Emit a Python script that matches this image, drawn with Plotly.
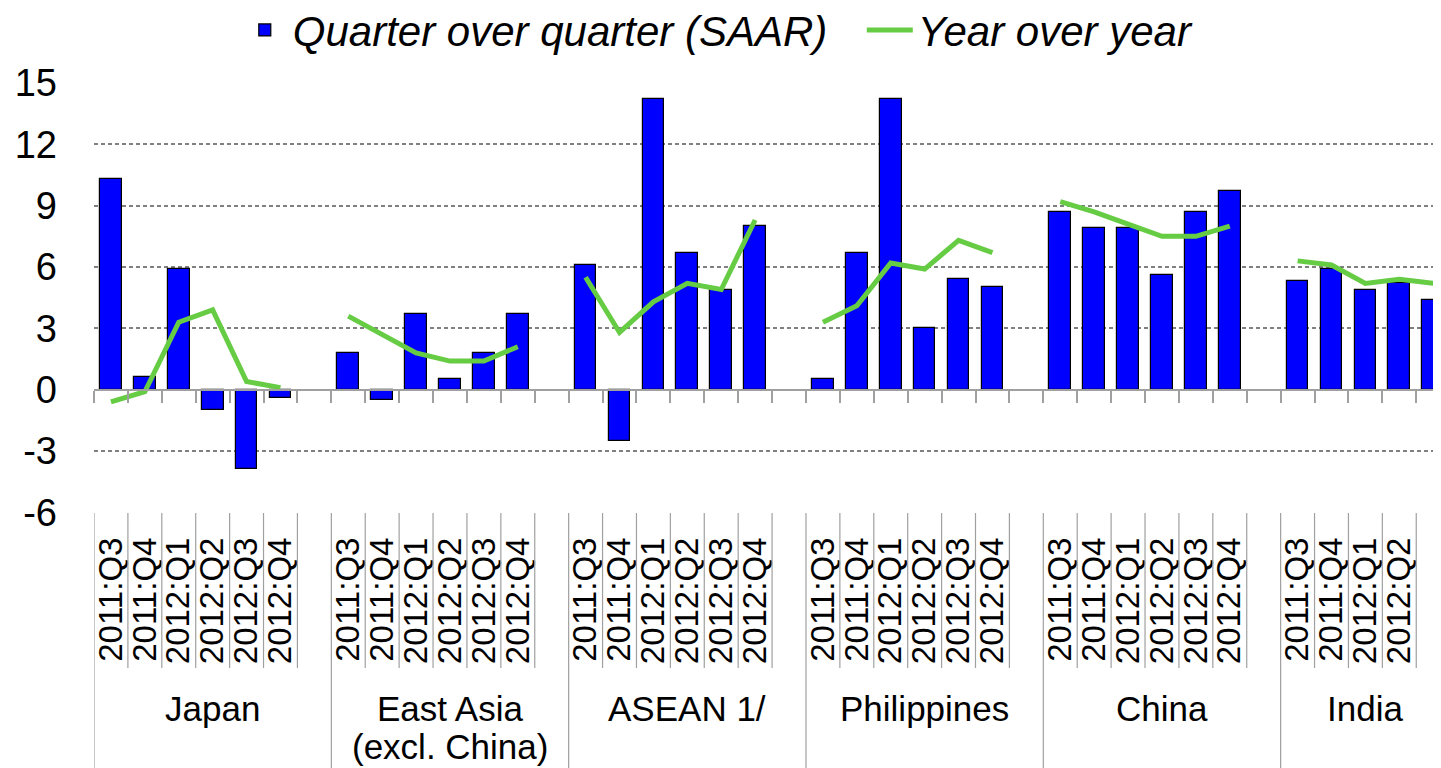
import plotly.graph_objects as go

# categories
groups = ['Japan', 'East Asia<br>(excl. China)', 'ASEAN 1/', 'Philippines', 'China', 'India']
quarters = ['2011:Q3', '2011:Q4', '2012:Q1', '2012:Q2', '2012:Q3', '2012:Q4']
y_ticks = [-6, -3, 0, 3, 6, 9, 12, 15]
y_tick_labels = ['-6', '-3', '0', '3', '6', '9', '12', '15']

# quarter over quarter (SAAR), percent
qoq_japan = [10.3, 0.6, 5.9, -1.0, -3.9, -0.4]
qoq_east_asia = [1.8, -0.5, 3.7, 0.5, 1.8, 3.7]
qoq_asean = [6.1, -2.5, 14.2, 6.7, 4.9, 8.0]
qoq_philippines = [0.5, 6.7, 14.2, 3.0, 5.4, 5.0]
qoq_china = [8.7, 7.9, 7.9, 5.6, 8.7, 9.7]
qoq_india = [5.3, 5.9, 4.9, 5.2, 4.4]

# year over year, percent
yoy_japan = [-0.6, -0.1, 3.3, 3.9, 0.4, 0.1]
yoy_east_asia = [3.6, 2.7, 1.8, 1.4, 1.4, 2.1]
yoy_asean = [5.5, 2.8, 4.3, 5.2, 4.9, 8.3]
yoy_philippines = [3.3, 4.1, 6.2, 5.9, 7.3, 6.7]
yoy_china = [9.2, 8.7, 8.1, 7.5, 7.5, 8.0]
yoy_india = [6.3, 6.1, 5.2, 5.4, 5.2]

qoq = [qoq_japan, qoq_east_asia, qoq_asean, qoq_philippines, qoq_china, qoq_india]
yoy = [yoy_japan, yoy_east_asia, yoy_asean, yoy_philippines, yoy_china, yoy_india]

# lay the groups out on one axis, one blank slot between groups
xs, bar_y, line_x, line_y, tick_text = [], [], [], [], []
group_span = []
pos = 0
for g in range(len(groups)):
    n = len(qoq[g])
    start = pos
    for k in range(n):
        xs.append(pos)
        bar_y.append(qoq[g][k])
        line_x.append(pos)
        line_y.append(yoy[g][k])
        tick_text.append(quarters[k])
        pos += 1
    if g < len(groups) - 1:
        line_x.append(pos)
        line_y.append(None)
        pos += 1
    group_span.append((start - 0.5, pos - 0.5, start + n - 0.5))
n_slots = pos

grey = '#a0a0a0'
font = 'Liberation Sans, Arial, sans-serif'

bars = go.Bar(x=xs, y=bar_y, width=0.64, name='Quarter over quarter (SAAR)',
              marker=dict(color='#0000ff', line=dict(color='black', width=1.2)),
              legend='legend')
line = go.Scatter(x=line_x, y=line_y, mode='lines', name='Year over year',
                  xaxis='x2', line=dict(color='#66cc44', width=5), legend='legend2')

fig = go.Figure(data=[bars, line])

# page body has an 8px margin, so the figure is sized to fit inside the window
W, H = 1433, 760
x_range = [-0.5, 39.23]
top_px = 75
bottom_px = 255
plot_h = H - top_px - bottom_px

shapes = []
for (left, right, qend) in group_span:
    shapes.append(dict(type='line', xref='x', yref='paper', x0=left, x1=left,
                       y0=0, y1=-bottom_px / plot_h, line=dict(color=grey, width=1.2)))
    b = left + 1
    while b <= qend + 0.01:
        shapes.append(dict(type='line', xref='x', yref='paper', x0=b, x1=b,
                           y0=0, y1=-155 / plot_h, line=dict(color=grey, width=1.2)))
        b += 1

annotations = []
for g, (left, right, qend) in enumerate(group_span):
    for i, part in enumerate(groups[g].split('<br>')):
        annotations.append(dict(x=(left + right) / 2, xref='x', y=-(174 + 38 * i) / plot_h,
                                yref='paper', yanchor='top', text=part, showarrow=False,
                                font=dict(size=35, color='black', family=font)))

legend_font = dict(size=42, style='italic')
fig.update_layout(
    width=W, height=H,
    margin=dict(l=86, r=0, t=top_px, b=bottom_px, autoexpand=False),
    plot_bgcolor='white', paper_bgcolor='white',
    font=dict(family=font, color='black'),
    bargap=0,
    showlegend=True,
    legend=dict(orientation='h', x=0.106, xanchor='left', y=1.123, yanchor='middle',
                font=legend_font, itemwidth=46, bgcolor='rgba(0,0,0,0)'),
    legend2=dict(orientation='h', x=0.570, xanchor='left', y=1.123, yanchor='middle',
                 font=legend_font, itemwidth=46, bgcolor='rgba(0,0,0,0)'),
    xaxis=dict(range=x_range, tickvals=xs, ticktext=tick_text, tickangle=-90,
               tickfont=dict(size=33), showgrid=False, zeroline=False, showline=False,
               ticks='', ticklabelstandoff=17),
    xaxis2=dict(range=x_range, overlaying='x', anchor='free', position=6 / 21,
                tickvals=[k - 0.5 for k in range(n_slots + 1)], ticks='outside', ticklen=12,
                tickcolor=grey, tickwidth=1.5, showline=True, linecolor=grey, linewidth=1.5,
                showticklabels=False, showgrid=False, zeroline=False),
    yaxis=dict(range=[-6.03, 15], tickvals=y_ticks, ticktext=y_tick_labels, showgrid=True,
               gridcolor='#808080', griddash='4px,3px', gridwidth=1.5, zeroline=False,
               ticks='', tickfont=dict(size=38), ticklabelstandoff=36),
    shapes=shapes,
    annotations=annotations,
)

fig.write_html('out.html')
